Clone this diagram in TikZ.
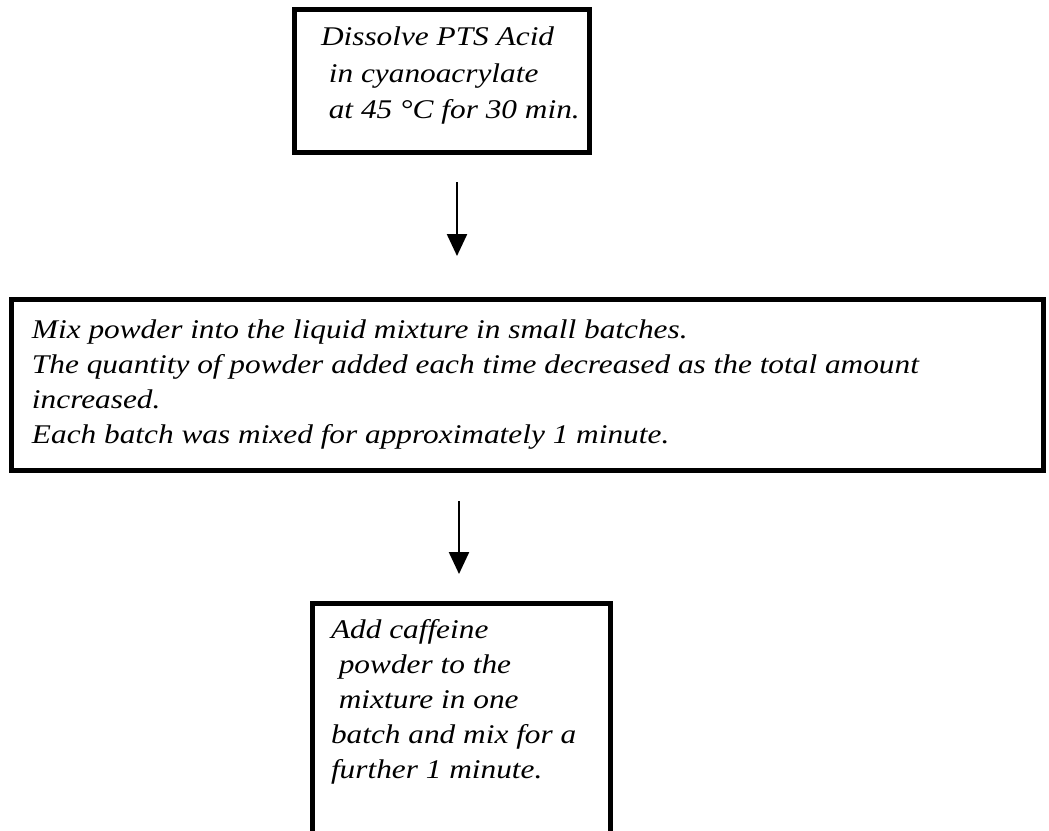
\documentclass[tikz,border=0pt]{standalone}
\usepackage{fontspec}
\setmainfont{Liberation Serif}[FakeStretch=1.16]
\usetikzlibrary{arrows.meta}
\begin{document}
\begin{tikzpicture}[x=0.5pt,y=-0.5pt,
  stepbox/.style={draw=black,line width=2.5pt,inner sep=0pt,outer sep=0pt,fill=white},
  txt/.style={font=\fontsize{13.5}{18}\selectfont\itshape,align=left,inner sep=0pt,outer sep=0pt,anchor=base west},
  txtb/.style={txt,font=\fontsize{13.5}{17.5}\selectfont\itshape},
  arr/.style={line width=1.2pt,-{Triangle[width=10pt,length=11pt]}}]
\useasboundingbox (0,0) rectangle (1049,830);
\clip (0,0) rectangle (1049,830);
\fill[white] (0,0) rectangle (1049,830);
% boxes
\node[stepbox,minimum width=147.5pt,minimum height=71.5pt] (b1) at (442,81) {};
\node[stepbox,minimum width=516pt,minimum height=85.5pt] (b2) at (527.75,385) {};
\node[stepbox,minimum width=149pt,minimum height=148.5pt] (b3) at (461,751.5) {};
% texts (anchored at the baseline of their last line)
\node[txt] (t1) at (321,118) {Dissolve PTS Acid\\\ in cyanoacrylate\\\ at 45 °C for 30 min.};
\node[txtb] (t2) at (32,443) {Mix powder into the liquid mixture in small batches.\\The quantity of powder added each time decreased as the total amount\\increased.\\Each batch was mixed for approximately 1 minute.};
\node[txtb] (t3) at (331,778) {Add caffeine\\\ powder to the\\\ mixture in one\\batch and mix for a\\further 1 minute.};
% arrows
\draw[arr] ([shift={(15,29.5)}]b1.south) -- ([shift={(-70.75,-43.5)}]b2.north);
\draw[arr] ([shift={(-68.75,30.5)}]b2.south) -- ([shift={(-2,-29)}]b3.north);
\end{tikzpicture}
\end{document}
